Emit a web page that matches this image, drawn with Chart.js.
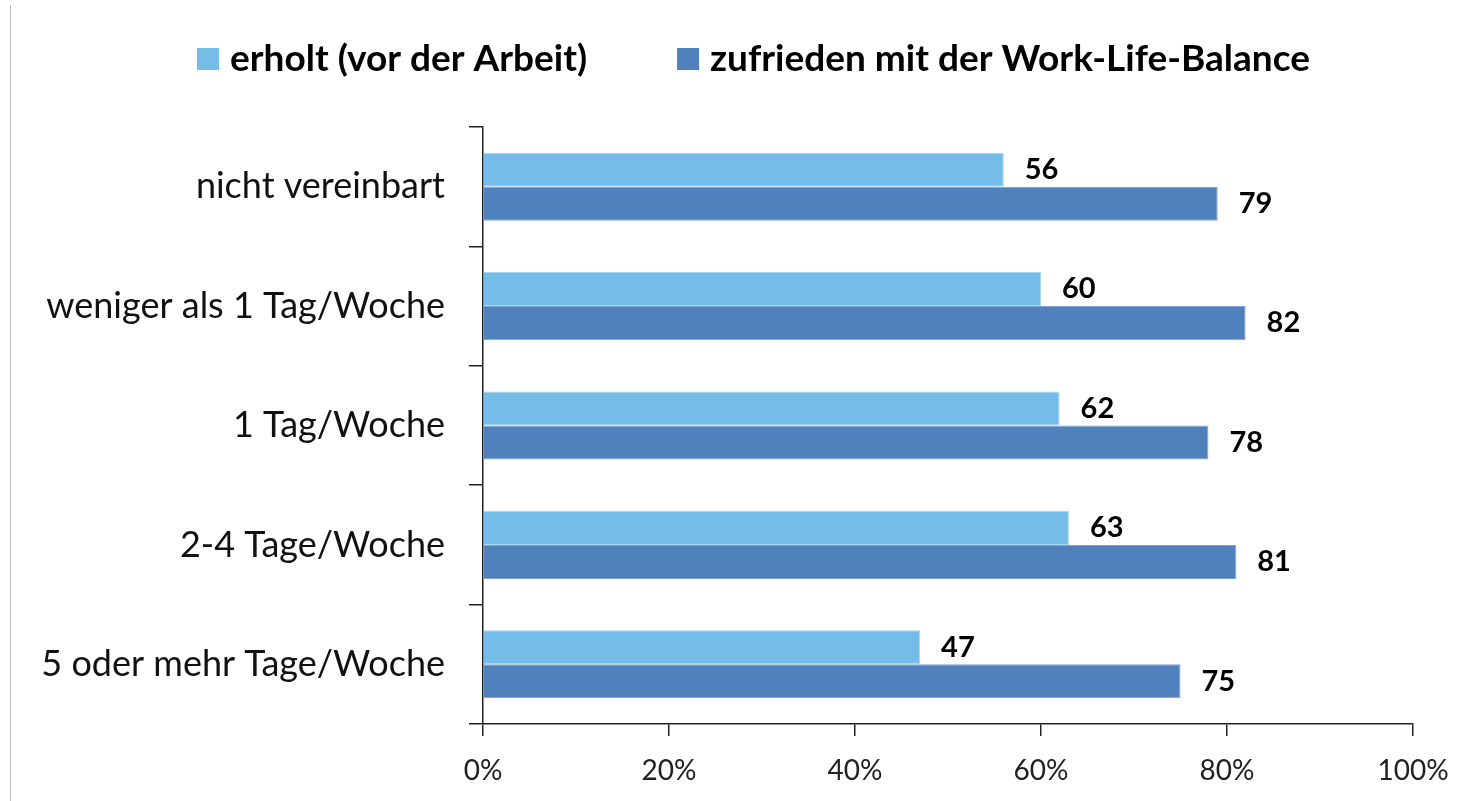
<!DOCTYPE html>
<html>
<head>
<meta charset="utf-8">
<script src="https://cdn.jsdelivr.net/npm/chart.js"></script>
<style>
  html, body { margin: 0; padding: 0; background: #fff; }
  #wrap { position: relative; width: 1462px; height: 801px; }
  #edge { position: absolute; left: 10px; top: 5px; bottom: 0; border-left: 1px solid #bbb; }
</style>
</head>
<body>
<div id="wrap">
  <div id="edge"></div>
  <canvas id="chart" width="1462" height="801"></canvas>
</div>
<script>
const categories = [
  "nicht vereinbart",
  "weniger als 1 Tag/Woche",
  "1 Tag/Woche",
  "2-4 Tage/Woche",
  "5 oder mehr Tage/Woche"
];
const erholt = [56, 60, 62, 63, 47];
const zufrieden = [79, 82, 78, 81, 75];
const seriesNames = ["erholt (vor der Arbeit)", "zufrieden mit der Work-Life-Balance"];
const seriesColors = ["#74bde8", "#4f81bd"];
const xTicks = [0, 20, 40, 60, 80, 100];

// bold value next to each bar end
const valueLabels = {
  id: "valueLabels",
  afterDatasetsDraw(chart) {
    const ctx = chart.ctx;
    ctx.save();
    ctx.font = "bold 29px Lato";
    ctx.fillStyle = "#000";
    ctx.textBaseline = "middle";
    ctx.textAlign = "left";
    chart.data.datasets.forEach((ds, i) => {
      chart.getDatasetMeta(i).data.forEach((bar, j) => {
        ctx.fillText(ds.data[j], bar.x + 21, bar.y);
      });
    });
    ctx.restore();
  }
};

// legend drawn by hand so the item spacing matches the original
const topLegend = {
  id: "topLegend",
  afterDraw(chart) {
    const ctx = chart.ctx;
    ctx.save();
    ctx.font = "bold 37px Lato";
    ctx.textBaseline = "middle";
    ctx.textAlign = "left";
    let x = 197;
    const y = 59;
    chart.data.datasets.forEach((ds, i) => {
      ctx.fillStyle = ds.backgroundColor;
      ctx.fillRect(x, y - 11, 22, 22);
      ctx.fillStyle = "#000";
      ctx.fillText(ds.label, x + 33, y);
      x += 33 + ctx.measureText(ds.label).width + 90;
    });
    ctx.restore();
  }
};

new Chart("chart", {
  type: "bar",
  data: {
    labels: categories,
    datasets: [
      {
        label: seriesNames[0],
        data: erholt,
        backgroundColor: seriesColors[0],
        borderColor: "#a9d6f2",
        borderWidth: 1,
        borderSkipped: "start",
        barPercentage: 1,
        categoryPercentage: 0.57
      },
      {
        label: seriesNames[1],
        data: zufrieden,
        backgroundColor: seriesColors[1],
        borderColor: "#7fa3d0",
        borderWidth: 1,
        borderSkipped: "start",
        barPercentage: 1,
        categoryPercentage: 0.57
      }
    ]
  },
  options: {
    indexAxis: "y",
    responsive: false,
    animation: false,
    layout: { padding: { left: 0, right: 49, top: 127, bottom: 0 } },
    plugins: {
      legend: { display: false },
      tooltip: { enabled: false }
    },
    scales: {
      x: {
        min: 0,
        max: 100,
        afterBuildTicks: (axis) => { axis.ticks = xTicks.map(v => ({ value: v })); },
        afterFit: (scale) => { scale.height = 77; scale.paddingRight = 0; scale.paddingLeft = 0; },
        border: { display: true, color: "#222", width: 1.5 },
        grid: { drawOnChartArea: false, tickLength: 12, color: "#222", lineWidth: 1.5 },
        ticks: {
          padding: 18,
          color: "#222",
          font: { family: "Lato", size: 28 },
          callback: v => v + "%"
        }
      },
      y: {
        afterFit: (scale) => { scale.width = 483; },
        border: { display: true, color: "#222", width: 1.5 },
        grid: { drawOnChartArea: false, offset: true, tickLength: 14, color: "#222", lineWidth: 1.5 },
        ticks: {
          padding: 24,
          color: "#111",
          font: { family: "Lato", size: 36 }
        }
      }
    }
  },
  plugins: [valueLabels, topLegend]
});
</script>
</body>
</html>
